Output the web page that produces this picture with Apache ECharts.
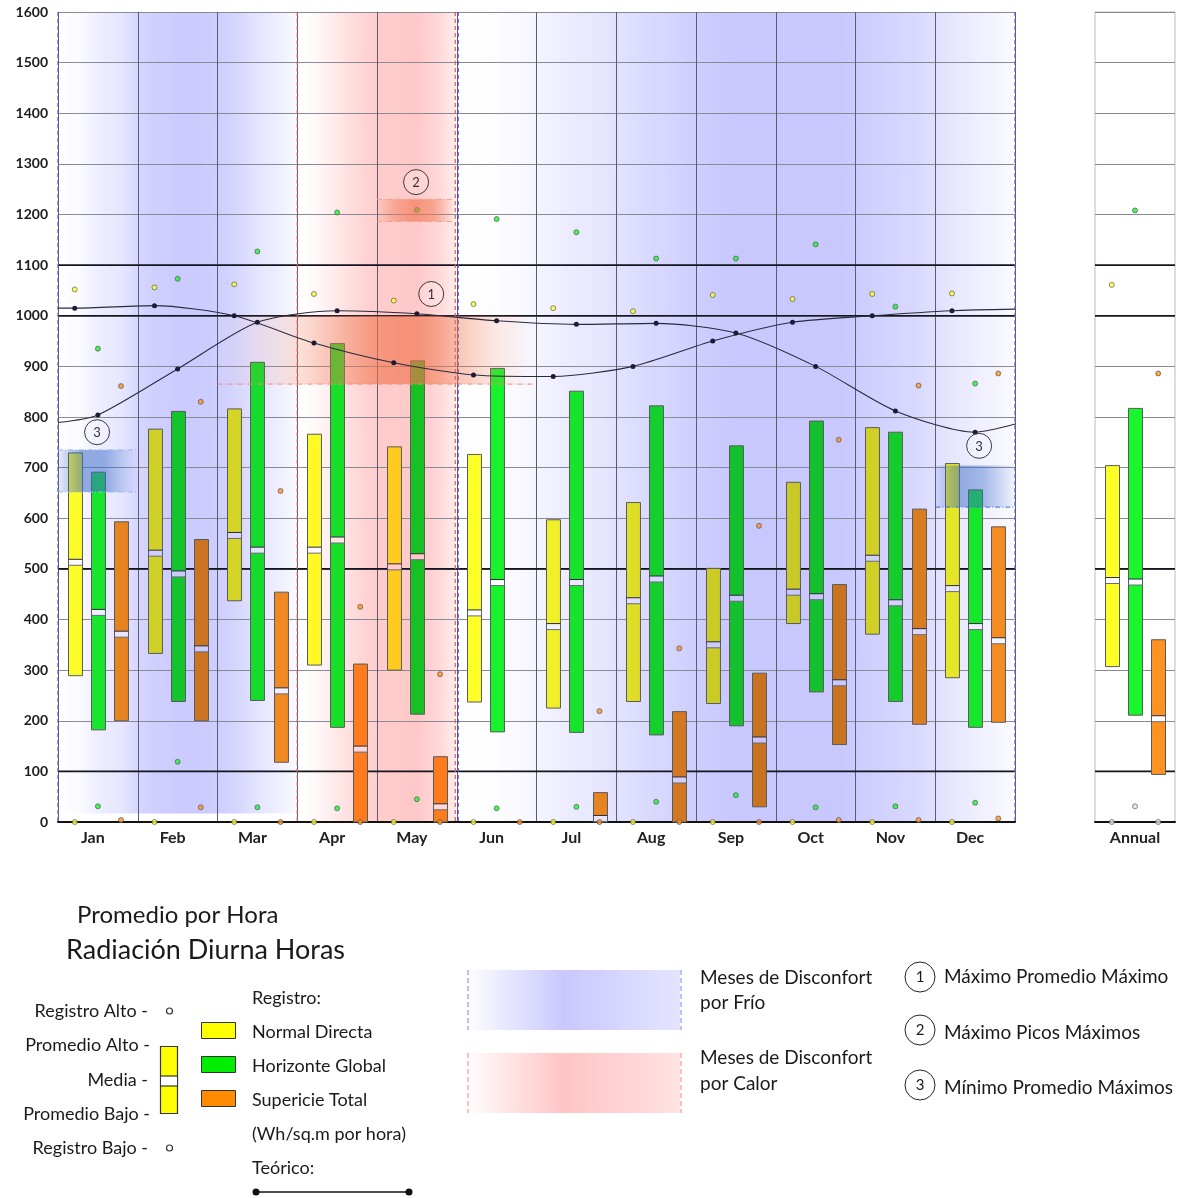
<!DOCTYPE html>
<html>
<head>
<meta charset="utf-8">
<title>Radiación Diurna Horas</title>
<script src="https://cdn.jsdelivr.net/npm/echarts@6/dist/echarts.min.js"></script>
<style>
html, body { margin: 0; padding: 0; background: #ffffff; }
#chart { width: 1177px; height: 1198px; }
</style>
</head>
<body>
<div id="chart"></div>
<script>
// ---------- data (Wh/sq.m por hora) ----------
const months = ['Jan', 'Feb', 'Mar', 'Apr', 'May', 'Jun', 'Jul', 'Aug', 'Sep', 'Oct', 'Nov', 'Dec'];
const annualCategory = ['Annual'];
const boldTicks = [100, 500, 1000, 1100];

// Normal Directa
const directaHigh    = [729, 776, 816, 766, 741, 726, 597, 631, 501, 671, 779, 708];
const directaMean    = [513, 531, 566, 537, 504, 413, 386, 437, 350, 454, 521, 461];
const directaLow     = [289, 333, 437, 310, 300, 237, 225, 238, 234, 392, 371, 285];
const directaRecHigh = [1052, 1056, 1062, 1043, 1030, 1023, 1015, 1009, 1041, 1033, 1043, 1044];
const directaRecLow  = [0, 0, 0, 0, 0, 0, 0, 0, 0, 0, 0, 0];

// Horizonte Global
const globalHigh    = [691, 811, 908, 945, 911, 896, 851, 822, 743, 792, 770, 656];
const globalMean    = [414, 490, 537, 557, 524, 473, 473, 480, 442, 445, 433, 386];
const globalLow     = [182, 238, 240, 187, 213, 178, 177, 172, 190, 257, 238, 187];
const globalRecHigh = [935, 1073, 1127, 1204, 1209, 1191, 1165, 1113, 1113, 1141, 1018, 866];
const globalRecLow  = [31, 119, 29, 27, 45, 27, 30, 40, 53, 29, 31, 38];

// Supericie Total
const totalHigh    = [593, 558, 454, 312, 129, null, 58, 218, 294, 469, 618, 583];
const totalMean    = [371, 342, 259, 144, 30, null, 7, 83, 162, 275, 376, 358];
const totalLow     = [200, 200, 118, 0, 0, null, 0, 0, 30, 153, 193, 197];
const totalRecHigh = [861, 830, 654, 425, 292, null, 219, 343, 585, 755, 862, 886];
const totalRecLow  = [4, 29, 0, 0, 0, 0, 0, 0, 0, 4, 4, 7];

// Annual: [Normal Directa, Horizonte Global, Supericie Total]
const annualHigh    = [704, 817, 360];
const annualMean    = [477, 474, 204];
const annualLow     = [307, 211, 94];
const annualRecHigh = [1061, 1208, 886];
const annualRecLow  = [0, 31, 0];

// Teórico curves (monthly points, plus the values where they meet the plot edges)
const teoricoA      = [1015, 1020, 1000, 946, 907, 883, 880, 900, 950, 987, 1000, 1010];
const teoricoAEdges = [1015, 1013];
const teoricoB      = [804, 895, 987, 1010, 1004, 990, 983, 985, 966, 900, 812, 770];
const teoricoBEdges = [789, 786];

// highlighted ranges: [month from, month to, value from, value to]
const rangeMaxPromedio = [2.0, 5.95, 865, 1000];
const rangeMaxPicos    = [4.0, 4.95, 1186, 1230];
const rangeMinJan      = [0, 1, 652, 735];
const rangeMinDec      = [11, 12, 622, 704];
// numbered markers: [month position, value, label]
const markers = [[4.68, 1043, '1'], [4.49, 1264, '2'], [0.49, 770, '3'], [11.55, 743, '3']];

// ---------- styling helpers ----------
const FONT = 'Lato, "Noto Sans", sans-serif';
const OFFS = [0.21, 0.5, 0.79];      // bar slots inside a month column
const BAR_W = 0.175;                 // bar width in month units
const YELLOW = [255, 255, 40], GREEN = [24, 246, 44], ORANGE = [255, 146, 34], PALE = [225, 225, 225];

// discomfort shading: [x0, x1, bottom value, hue, stops [pos, level]]
const shading = [
  { x0: 0, x1: 3, bottom: 17, hue: 'cold', stops: [[0, 255], [0.25, 251], [0.5, 238], [0.8, 230], [1.0, 214], [1.2, 208], [1.5, 203], [1.8, 203], [2.0, 206], [2.2, 212], [2.5, 228], [2.8, 240], [3.0, 250]] },
  { x0: 3, x1: 5, bottom: 0, hue: 'warm', stops: [[3.0, 255], [3.2, 250], [3.5, 232], [3.8, 214], [4.0, 205], [4.5, 200], [4.8, 218], [5.0, 238]] },
  { x0: 5, x1: 12, bottom: 0, hue: 'cold', stops: [[5.0, 255], [5.5, 253], [6.0, 245], [6.3, 238], [6.8, 230], [7.3, 220], [7.8, 210], [8.2, 203], [8.5, 200], [9.8, 200], [10.2, 208], [10.5, 212], [10.8, 218], [11.2, 230], [11.5, 238], [11.8, 245], [12, 251]] }
];

function toRgb(c) { return 'rgb(' + c.map(Math.round).join(',') + ')'; }
function levelColor(hue, v) { return hue === 'cold' ? [v, v, 255] : [255, v, v]; }
function shadeAt(x) {
  for (const band of shading) {
    if (x >= band.x0 && x <= band.x1) {
      const s = band.stops;
      for (let k = 0; k < s.length - 1; k++) {
        if (x >= s[k][0] && x <= s[k + 1][0]) {
          const t = (x - s[k][0]) / (s[k + 1][0] - s[k][0]);
          return levelColor(band.hue, s[k][1] + t * (s[k + 1][1] - s[k][1]));
        }
      }
    }
  }
  return [255, 255, 255];
}
function plainWhite() { return [255, 255, 255]; }
function multiply(a, b) { return [a[0] * b[0] / 255, a[1] * b[1] / 255, a[2] * b[2] / 255]; }

// ---------- series builders ----------
function boxSeries(name, items, base, xi, yi, bgFn) {
  return {
    name: name, type: 'custom', xAxisIndex: xi, yAxisIndex: yi, z: 3,
    encode: { x: 0, y: [1, 2, 3] },
    data: items,
    renderItem: function (params, api) {
      const x = api.value(0);
      const top = api.coord([x, api.value(1)]);
      const mid = api.coord([x, api.value(2)]);
      const bot = api.coord([x, api.value(3)]);
      const w = api.size([BAR_W, 0])[0];
      const left = Math.round(top[0] - w / 2) + 0.5;
      const bg = bgFn(x);
      const mh = 6;
      return {
        type: 'group',
        children: [
          { type: 'rect', shape: { x: left, y: top[1], width: w, height: bot[1] - top[1] },
            style: { fill: toRgb(multiply(base, bg)), stroke: '#5a5a5a', lineWidth: 1 } },
          { type: 'rect', shape: { x: left + 0.5, y: mid[1] - mh / 2, width: w - 1, height: mh },
            style: { fill: toRgb(bg) } },
          { type: 'line', shape: { x1: left, y1: mid[1] - mh / 2, x2: left + w, y2: mid[1] - mh / 2 },
            style: { stroke: '#2a2a3a', lineWidth: 1 } },
          { type: 'line', shape: { x1: left, y1: mid[1] + mh / 2, x2: left + w, y2: mid[1] + mh / 2 },
            style: { stroke: '#6a6a7a', lineWidth: 1 } }
        ]
      };
    }
  };
}
function monthBoxes(hi, mid, lo, slot) {
  const out = [];
  hi.forEach(function (h, i) { if (h != null) out.push([i + OFFS[slot], h, mid[i], lo[i]]); });
  return out;
}
function monthDots(vals, slot) {
  const out = [];
  vals.forEach(function (v, i) { if (v != null) out.push([i + OFFS[slot], v]); });
  return out;
}
function dotSeries(data, base, xi, yi) {
  return {
    type: 'scatter', xAxisIndex: xi, yAxisIndex: yi, z: 3, data: data,
    symbol: 'circle', symbolSize: 5, silent: true,
    itemStyle: { color: toRgb(base), borderColor: '#4a4a4a', borderWidth: 0.8 }
  };
}
function accentSeries(xi, yi, xMax) {
  return {
    type: 'custom', xAxisIndex: xi, yAxisIndex: yi, z: 2, silent: true,
    data: boldTicks.map(function (v) { return [0, v]; }),
    renderItem: function (params, api) {
      const a = api.coord([0, api.value(1)]);
      const b = api.coord([xMax, api.value(1)]);
      return { type: 'line', shape: { x1: a[0], y1: a[1], x2: b[0], y2: b[1] },
        style: { stroke: '#15151f', lineWidth: 1.6 } };
    }
  };
}
function teoricoSeries(vals, edges, slot) {
  const data = [{ value: [0, edges[0]], symbol: 'none' }];
  vals.forEach(function (v, i) { data.push([i + OFFS[slot], v]); });
  data.push({ value: [12, edges[1]], symbol: 'none' });
  return {
    type: 'line', xAxisIndex: 1, yAxisIndex: 0, z: 5, data: data, smooth: 0.25,
    symbol: 'circle', symbolSize: 5, silent: true,
    lineStyle: { color: '#2b2b3e', width: 1.1 },
    itemStyle: { color: '#1c1c38' }
  };
}

// glow looks for the highlighted ranges
const glowLooks = [
  { rgb: '240,116,76', stops: [[0, 0], [0.2, 0.14], [0.35, 0.34], [0.5, 0.6], [0.63, 0.66], [0.76, 0.42], [0.88, 0.16], [1, 0]],
    dash: '#f08a7a', top: false, bottom: true },
  { rgb: '240,116,76', stops: [[0, 0.05], [0.25, 0.45], [0.5, 0.62], [0.75, 0.5], [1, 0.06]],
    dash: '#f0a090', top: true, bottom: true },
  { rgb: '58,106,200', stops: [[0, 0.12], [0.3, 0.55], [0.6, 0.5], [1, 0]],
    dash: '#9ab4f0', top: true, bottom: true },
  { rgb: '58,106,200', stops: [[0, 0.1], [0.3, 0.5], [0.6, 0.42], [1, 0.04]],
    dash: '#3f6ee6', top: false, bottom: true }
];

const chart = echarts.init(document.getElementById('chart'), null, { renderer: 'canvas' });

const txt = function (x, y, text, size, align) {
  return { type: 'text', x: x, y: y,
    style: { text: text, fill: '#1a1a1a', font: size + 'px ' + FONT, textAlign: align || 'left', textVerticalAlign: 'middle' } };
};

const option = {
  backgroundColor: '#ffffff',
  animation: false,
  textStyle: { fontFamily: FONT },
  grid: [
    { left: 58, top: 12, width: 957, height: 810, outerBoundsMode: 'none' },
    { left: 1095, top: 12, width: 80, height: 810, outerBoundsMode: 'none',
      show: true, borderColor: '#bdbdbd', borderWidth: 1, backgroundColor: 'transparent' }
  ],
  xAxis: [
    { type: 'category', gridIndex: 0, data: months, boundaryGap: true, z: 1,
      axisLine: { lineStyle: { color: '#111', width: 2 } },
      axisTick: { show: false },
      axisLabel: { fontFamily: FONT, fontWeight: 'bold', fontSize: 16, color: '#222', margin: 8, padding: [0, 10, 0, 0] },
      splitLine: { show: true, interval: 0, lineStyle: { color: '#5c5c6c', width: 1 } } },
    { type: 'value', gridIndex: 0, min: 0, max: 12, show: false },
    { type: 'category', gridIndex: 1, data: annualCategory, boundaryGap: true, z: 1,
      axisLine: { lineStyle: { color: '#111', width: 2 } },
      axisTick: { show: false },
      axisLabel: { fontFamily: FONT, fontWeight: 'bold', fontSize: 16, color: '#222', margin: 8 },
      splitLine: { show: false } },
    { type: 'value', gridIndex: 1, min: 0, max: 1, show: false }
  ],
  yAxis: [
    { type: 'value', gridIndex: 0, min: 0, max: 1600, interval: 100, z: 1,
      axisLine: { show: false }, axisTick: { show: false },
      axisLabel: { fontFamily: FONT, fontWeight: 'bold', fontSize: 14, color: '#1c1c1c', margin: 10,
        formatter: function (v) { return String(v); } },
      splitLine: { lineStyle: { color: '#8a8a96', width: 1 } } },
    { type: 'value', gridIndex: 1, min: 0, max: 1600, interval: 100, z: 1,
      axisLine: { show: false }, axisTick: { show: false }, axisLabel: { show: false },
      splitLine: { lineStyle: { color: '#8a8a96', width: 1 } } }
  ],
  series: [
    // discomfort shading
    {
      type: 'custom', xAxisIndex: 1, yAxisIndex: 0, z: 0, silent: true,
      data: shading.map(function (b) { return [b.x0, b.x1, b.bottom]; }),
      renderItem: function (params, api) {
        const band = shading[params.dataIndex];
        const a = api.coord([api.value(0), 1600]);
        const b = api.coord([api.value(1), api.value(2)]);
        const span = band.x1 - band.x0;
        const stops = band.stops.map(function (s) {
          return { offset: (s[0] - band.x0) / span, color: toRgb(levelColor(band.hue, s[1])) };
        });
        return { type: 'rect', shape: { x: a[0], y: a[1], width: b[0] - a[0], height: b[1] - a[1] },
          style: { fill: new echarts.graphic.LinearGradient(0, 0, 1, 0, stops) } };
      }
    },
    accentSeries(1, 0, 12),
    accentSeries(3, 1, 1),
    // season dividers
    {
      type: 'custom', xAxisIndex: 1, yAxisIndex: 0, z: 2, silent: true,
      data: [[0, 0, 0], [3, 1, 0], [5, 1, -1.5], [5, 0, 1.5], [12, 0, 0]],
      renderItem: function (params, api) {
        const a = api.coord([api.value(0), 1600]);
        const b = api.coord([api.value(0), 0]);
        const x = a[0] + api.value(2);
        return { type: 'line', shape: { x1: x, y1: a[1], x2: x, y2: b[1] },
          style: { stroke: api.value(1) === 1 ? '#e05a5a' : '#5a5ae6', lineWidth: 1.2, lineDash: [4, 3] } };
      }
    },
    // monthly boxes
    boxSeries('Normal Directa', monthBoxes(directaHigh, directaMean, directaLow, 0), YELLOW, 1, 0, shadeAt),
    boxSeries('Horizonte Global', monthBoxes(globalHigh, globalMean, globalLow, 1), GREEN, 1, 0, shadeAt),
    boxSeries('Supericie Total', monthBoxes(totalHigh, totalMean, totalLow, 2), ORANGE, 1, 0, shadeAt),
    dotSeries(monthDots(directaRecHigh, 0), YELLOW, 1, 0),
    dotSeries(monthDots(directaRecLow, 0), YELLOW, 1, 0),
    dotSeries(monthDots(globalRecHigh, 1), GREEN, 1, 0),
    dotSeries(monthDots(globalRecLow, 1), GREEN, 1, 0),
    dotSeries(monthDots(totalRecHigh, 2), ORANGE, 1, 0),
    dotSeries(monthDots(totalRecLow, 2), ORANGE, 1, 0),
    // annual boxes
    boxSeries('Annual Directa', [[OFFS[0], annualHigh[0], annualMean[0], annualLow[0]]], YELLOW, 3, 1, plainWhite),
    boxSeries('Annual Global', [[OFFS[1], annualHigh[1], annualMean[1], annualLow[1]]], GREEN, 3, 1, plainWhite),
    boxSeries('Annual Total', [[OFFS[2], annualHigh[2], annualMean[2], annualLow[2]]], ORANGE, 3, 1, plainWhite),
    dotSeries([[OFFS[0], annualRecHigh[0]]], YELLOW, 3, 1),
    dotSeries([[OFFS[1], annualRecHigh[1]]], GREEN, 3, 1),
    dotSeries([[OFFS[2], annualRecHigh[2]]], ORANGE, 3, 1),
    dotSeries([[OFFS[0], annualRecLow[0]], [OFFS[1], annualRecLow[1]], [OFFS[2], annualRecLow[2]]], PALE, 3, 1),
    // highlighted ranges
    {
      type: 'custom', xAxisIndex: 1, yAxisIndex: 0, z: 4, silent: true,
      data: [rangeMaxPromedio, rangeMaxPicos, rangeMinJan, rangeMinDec],
      renderItem: function (params, api) {
        const look = glowLooks[params.dataIndex];
        const a = api.coord([api.value(0), api.value(3)]);
        const b = api.coord([api.value(1), api.value(2)]);
        const stops = look.stops.map(function (s) {
          return { offset: s[0], color: 'rgba(' + look.rgb + ',' + s[1] + ')' };
        });
        const kids = [{ type: 'rect', shape: { x: a[0], y: a[1], width: b[0] - a[0], height: b[1] - a[1] },
          style: { fill: new echarts.graphic.LinearGradient(0, 0, 1, 0, stops) } }];
        const dashStyle = { stroke: look.dash, lineWidth: 1, lineDash: [5, 2, 1, 2] };
        if (look.top) kids.push({ type: 'line', shape: { x1: a[0], y1: a[1], x2: b[0], y2: a[1] }, style: dashStyle });
        if (look.bottom) kids.push({ type: 'line', shape: { x1: a[0], y1: b[1], x2: b[0], y2: b[1] }, style: dashStyle });
        return { type: 'group', children: kids };
      }
    },
    // Teórico
    teoricoSeries(teoricoA, teoricoAEdges, 0),
    teoricoSeries(teoricoB, teoricoBEdges, 1),
    // numbered markers
    {
      type: 'custom', xAxisIndex: 1, yAxisIndex: 0, z: 6, silent: true,
      data: markers,
      renderItem: function (params, api) {
        const p = api.coord([api.value(0), api.value(1)]);
        return {
          type: 'group',
          children: [
            { type: 'circle', shape: { cx: p[0], cy: p[1], r: 12.5 },
              style: { fill: 'rgba(255,255,255,0.2)', stroke: '#3a3a3a', lineWidth: 1 } },
            { type: 'text', x: p[0], y: p[1] + 0.5,
              style: { text: markers[params.dataIndex][2], fill: '#333', font: '13px ' + FONT,
                textAlign: 'center', textVerticalAlign: 'middle' } }
          ]
        };
      }
    }
  ],
  graphic: [
    // titles
    txt(77, 915, 'Promedio por Hora', 24),
    txt(66, 950, 'Radiación Diurna Horas', 27),
    // box key
    txt(148, 1011, 'Registro Alto -', 18, 'right'),
    txt(150, 1045, 'Promedio Alto -', 18, 'right'),
    txt(148, 1080, 'Media -', 18, 'right'),
    txt(150, 1114, 'Promedio Bajo -', 18, 'right'),
    txt(148, 1148, 'Registro Bajo -', 18, 'right'),
    { type: 'circle', shape: { cx: 169.5, cy: 1011, r: 3 }, style: { fill: '#fff', stroke: '#333', lineWidth: 1.2 } },
    { type: 'circle', shape: { cx: 169.5, cy: 1148, r: 3 }, style: { fill: '#fff', stroke: '#333', lineWidth: 1.2 } },
    { type: 'rect', shape: { x: 160.5, y: 1046.5, width: 17, height: 67 }, style: { fill: '#ffff00', stroke: '#333', lineWidth: 1.2 } },
    { type: 'rect', shape: { x: 161, y: 1076, width: 16, height: 10 }, style: { fill: '#ffffff', stroke: null } },
    { type: 'line', shape: { x1: 160.5, y1: 1076, x2: 177.5, y2: 1076 }, style: { stroke: '#333', lineWidth: 1.2 } },
    { type: 'line', shape: { x1: 160.5, y1: 1086, x2: 177.5, y2: 1086 }, style: { stroke: '#333', lineWidth: 1.2 } },
    // colour key
    { type: 'rect', shape: { x: 201.5, y: 1022.5, width: 34, height: 16 }, style: { fill: '#ffff00', stroke: '#333', lineWidth: 1 } },
    { type: 'rect', shape: { x: 201.5, y: 1056.5, width: 34, height: 16 }, style: { fill: '#00ee00', stroke: '#333', lineWidth: 1 } },
    { type: 'rect', shape: { x: 201.5, y: 1090.5, width: 34, height: 16 }, style: { fill: '#ff8c00', stroke: '#333', lineWidth: 1 } },
    txt(252, 998, 'Registro:', 18),
    txt(252, 1032, 'Normal Directa', 18),
    txt(252, 1066, 'Horizonte Global', 18),
    txt(252, 1100, 'Supericie Total', 18),
    txt(252, 1134, '(Wh/sq.m por hora)', 18),
    txt(252, 1168, 'Teórico:', 18),
    { type: 'line', shape: { x1: 256, y1: 1192, x2: 409, y2: 1192 }, style: { stroke: '#111', lineWidth: 1.5 } },
    { type: 'circle', shape: { cx: 256, cy: 1192, r: 3.5 }, style: { fill: '#111' } },
    { type: 'circle', shape: { cx: 409, cy: 1192, r: 3.5 }, style: { fill: '#111' } },
    // discomfort key
    { type: 'rect', shape: { x: 469, y: 970, width: 211, height: 60 },
      style: { fill: new echarts.graphic.LinearGradient(0, 0, 1, 0, [
        { offset: 0, color: 'rgba(200,200,255,0.05)' }, { offset: 0.45, color: 'rgb(200,200,255)' }, { offset: 1, color: 'rgb(228,228,255)' }]) } },
    { type: 'rect', shape: { x: 469, y: 1053, width: 211, height: 60 },
      style: { fill: new echarts.graphic.LinearGradient(0, 0, 1, 0, [
        { offset: 0, color: 'rgba(255,196,196,0.05)' }, { offset: 0.45, color: 'rgb(255,196,196)' }, { offset: 1, color: 'rgb(255,226,226)' }]) } },
    { type: 'line', shape: { x1: 468, y1: 970, x2: 468, y2: 1030 }, style: { stroke: '#8080f0', lineWidth: 1, lineDash: [5, 3] } },
    { type: 'line', shape: { x1: 681, y1: 970, x2: 681, y2: 1030 }, style: { stroke: '#8080f0', lineWidth: 1, lineDash: [5, 3] } },
    { type: 'line', shape: { x1: 468, y1: 1053, x2: 468, y2: 1113 }, style: { stroke: '#f08080', lineWidth: 1, lineDash: [5, 3] } },
    { type: 'line', shape: { x1: 681, y1: 1053, x2: 681, y2: 1113 }, style: { stroke: '#f08080', lineWidth: 1, lineDash: [5, 3] } },
    txt(700, 978, 'Meses de Disconfort', 19),
    txt(700, 1003, 'por Frío', 19),
    txt(700, 1058, 'Meses de Disconfort', 19),
    txt(700, 1084, 'por Calor', 19),
    // numbered key
    { type: 'circle', shape: { cx: 920, cy: 977, r: 15 }, style: { fill: '#fff', stroke: '#222', lineWidth: 1 } },
    { type: 'circle', shape: { cx: 920, cy: 1030, r: 15 }, style: { fill: '#fff', stroke: '#222', lineWidth: 1 } },
    { type: 'circle', shape: { cx: 920, cy: 1085, r: 15 }, style: { fill: '#fff', stroke: '#222', lineWidth: 1 } },
    txt(920, 977, '1', 15, 'center'),
    txt(920, 1030, '2', 15, 'center'),
    txt(920, 1085, '3', 15, 'center'),
    txt(944, 977, 'Máximo Promedio Máximo', 19),
    txt(944, 1033, 'Máximo Picos Máximos', 19),
    txt(944, 1088, 'Mínimo Promedio Máximos', 19)
  ]
};

chart.setOption(option);
</script>
</body>
</html>
